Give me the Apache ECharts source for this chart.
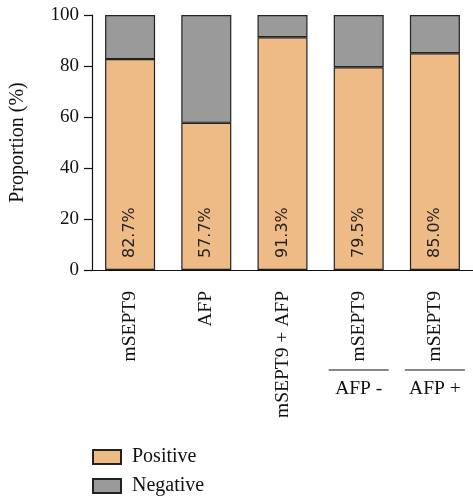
<!DOCTYPE html>
<html>
<head>
<meta charset="utf-8">
<script src="https://cdn.jsdelivr.net/npm/echarts@6/dist/echarts.min.js"></script>
<style>
  html, body { margin: 0; padding: 0; background: #fff; }
  #chart { width: 473px; height: 498px; }
</style>
</head>
<body>
<div id="chart"></div>
<script>
// Detection groups along the x axis
const categories = ['mSEPT9', 'AFP', 'mSEPT9 + AFP', 'mSEPT9', 'mSEPT9'];
// Subgroup captions printed under the last two groups
const subgroups = ['', '', '', 'AFP -', 'AFP +'];
// Share of positive and negative cases (%)
const positive = [82.7, 57.7, 91.3, 79.5, 85.0];
const negative = [17.3, 42.3, 8.7, 20.5, 15.0];
const positiveLabels = ['82.7%', '57.7%', '91.3%', '79.5%', '85.0%'];
const seriesNames = ['Positive', 'Negative'];
const yTicks = [0, 20, 40, 60, 80, 100];

const serif = '"Liberation Serif", "DejaVu Serif", serif';
const sans = '"DejaVu Sans", "Noto Sans", sans-serif';

const chart = echarts.init(document.getElementById('chart'));

// One legend row per series, stacked vertically under the axis labels
const legendRow = (name, top) => ({
  orient: 'vertical',
  left: 92,
  top: top,
  padding: 0,
  itemWidth: 28,
  itemHeight: 14,
  icon: 'rect',
  textStyle: { fontFamily: serif, fontSize: 20, color: '#111', padding: [0, 0, 0, 6] },
  data: [name]
});

chart.setOption({
  animation: false,
  backgroundColor: '#ffffff',
  grid: { left: 92, top: 15, width: 384, bottom: 228, containLabel: false },
  legend: [legendRow(seriesNames[0], 447), legendRow(seriesNames[1], 476)],
  xAxis: {
    type: 'category',
    data: categories,
    axisLine: { lineStyle: { color: '#111', width: 1.2 } },
    axisTick: { alignWithLabel: true, length: 6, lineStyle: { color: '#111', width: 1.2 } },
    axisLabel: {
      rotate: 90,
      margin: 21,
      fontFamily: serif,
      fontSize: 19.5,
      color: '#111',
      interval: 0
    }
  },
  yAxis: {
    type: 'value',
    min: yTicks[0],
    max: yTicks[yTicks.length - 1],
    interval: 20,
    name: 'Proportion (%)',
    nameLocation: 'middle',
    nameGap: 64,
    nameTextStyle: { fontFamily: serif, fontSize: 20, color: '#111' },
    axisLine: { show: true, lineStyle: { color: '#111', width: 1.2 } },
    axisTick: { show: true, length: 8, lineStyle: { color: '#111', width: 1.2 } },
    axisLabel: { fontFamily: serif, fontSize: 19, color: '#111', margin: 13 },
    splitLine: { show: false }
  },
  series: [
    {
      name: seriesNames[0],
      type: 'bar',
      stack: 'total',
      barWidth: 50,
      data: positive,
      itemStyle: { color: '#EEBA86', borderColor: '#222', borderWidth: 1.2 },
      label: {
        show: true,
        position: 'insideBottom',
        distance: 12,
        rotate: 90,
        align: 'left',
        verticalAlign: 'middle',
        fontFamily: sans,
        fontSize: 16,
        color: '#222',
        formatter: p => positiveLabels[p.dataIndex]
      }
    },
    {
      name: seriesNames[1],
      type: 'bar',
      stack: 'total',
      barWidth: 50,
      data: negative,
      itemStyle: { color: '#9A9A9A', borderColor: '#222', borderWidth: 1.2 }
    }
  ]
});

// Subgroup captions with a rule above them, placed under their category
const graphics = [];
subgroups.forEach((txt, i) => {
  if (!txt) return;
  const x = chart.convertToPixel({ xAxisIndex: 0 }, i);
  graphics.push({
    type: 'line',
    shape: { x1: x - 30, y1: 370, x2: x + 30, y2: 370 },
    style: { stroke: '#111', lineWidth: 1.2 }
  });
  graphics.push({
    type: 'text',
    x: x,
    y: 389,
    style: {
      text: txt,
      fontFamily: serif,
      fontSize: 19.5,
      fill: '#111',
      align: 'center',
      verticalAlign: 'middle'
    }
  });
});
chart.setOption({ graphic: graphics });
</script>
</body>
</html>
